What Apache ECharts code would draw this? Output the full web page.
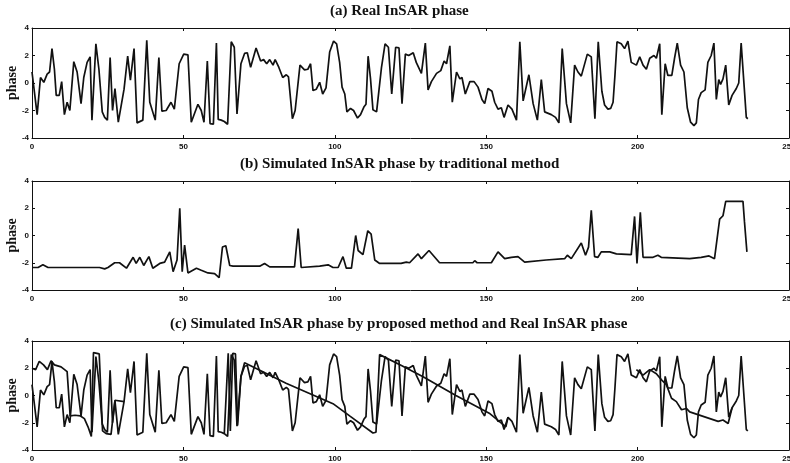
<!DOCTYPE html>
<html>
<head>
<meta charset="utf-8">
<script src="https://cdn.jsdelivr.net/npm/echarts@6/dist/echarts.min.js"></script>
<style>html,body{margin:0;padding:0;background:#fff}#c{width:790px;height:463px}</style>
</head>
<body>
<div id="c"></div>
<script>
// Real InSAR phase (index, phase)
const realX = [0,1.7,2.8,3.9,5.0,5.8,6.6,7.4,8.0,9.0,9.8,10.7,11.6,12.5,13.8,14.9,16.2,17.1,18.2,19.2,19.8,21.1,22.1,23.2,24.0,24.9,25.8,26.6,27.4,28.5,30.4,31.6,32.5,33.7,34.7,36.6,37.9,38.9,40.7,41.9,42.9,44.3,45.9,47.0,48.6,50.1,51.5,52.6,54.8,55.9,56.8,57.9,58.8,59.9,60.9,61.5,62.5,63.5,64.6,65.8,66.8,67.7,69.0,70.2,71.1,72.2,74.0,75.5,76.5,77.5,78.5,79.6,80.3,81.5,82.8,84.0,84.7,86.0,86.9,88.5,90.0,91.1,92.0,92.8,93.9,95.0,96.0,97.1,98.3,99.6,100.6,101.6,102.4,103.3,104.0,105.2,106.2,107.5,108.5,109.6,110.3,111.0,111.8,112.6,113.8,114.4,115.4,116.6,117.7,118.8,120.1,121.2,122.2,123.3,124.4,125.9,126.9,128.6,129.9,130.8,131.9,133.6,135.0,136.1,136.9,138.0,138.8,140.2,141.3,142.0,143.1,144.6,146.0,147.3,148.6,149.5,150.6,151.9,152.8,153.9,155.0,155.9,157.2,158.5,160.0,161.1,162.2,164.1,165.5,166.9,168.2,169.3,171.5,172.9,174.0,175.1,176.5,177.9,179.2,180.3,181.4,183.4,184.7,185.2,185.9,187.0,188.2,189.1,190.2,191.1,191.9,192.5,193.2,194.6,195.7,196.8,197.9,199.6,200.7,201.8,202.9,204.0,205.4,206.2,207.3,208.0,209.1,210.0,211.3,212.2,213.1,214.2,215.3,216.4,217.5,218.6,219.4,220.1,221.0,222.3,223.2,224.3,225.2,226.0,226.8,227.4,228.2,229.1,230.1,231.2,232.6,233.4,234.2,235.9,236.4];
const realY = [0.8,-2.3,0.4,0.05,0.65,0.8,2.5,1.0,-0.9,-0.9,0.1,-2.3,-1.4,-2.0,1.55,0.8,-1.5,0.4,1.5,1.9,-2.7,2.85,1.0,-2.1,-2.5,-2.7,1.85,-2.0,-0.4,-2.85,-0.45,1.95,0.2,2.5,-2.9,-2.7,3.1,-1.4,-2.7,1.85,-2.05,-2.0,-1.4,-1.9,1.4,2.1,2.05,-2.85,-1.55,-2.0,-2.85,1.6,-2.95,-3.0,2.9,-2.65,-2.7,-2.8,-3.0,3.0,2.6,-2.25,1.4,2.15,2.2,1.15,2.55,1.6,1.7,1.4,1.7,1.3,1.7,1.15,0.4,0.6,0.45,-2.6,-2.0,1.3,0.95,1.0,1.4,-0.55,-0.45,0.05,-0.8,-0.35,2.25,3.05,2.85,1.5,-0.3,-0.8,-2.1,-1.85,-2.0,-2.55,-2.3,-1.75,-1.55,1.95,0.3,-1.95,-2.1,-2.1,1.1,2.85,2.6,-0.8,2.6,2.55,-1.5,2.1,2.0,2.2,1.5,0.7,2.9,-0.5,0.1,0.7,0.9,1.6,1.4,2.7,-1.4,0.8,0.3,0.4,-0.8,0.1,0.1,-0.3,-1.2,-1.5,-0.4,-0.6,-1.4,-1.9,-1.8,-2.5,-1.6,-1.9,-2.7,3.0,-1.3,0.6,-1.5,-2.7,0.25,-2.1,-2.3,-2.5,-2.9,2.5,-1.5,-2.9,1.3,0.8,0.5,2.1,1.9,2.0,-2.6,3.0,-0.6,-1.6,-1.9,-1.85,-1.4,0.5,3.0,2.85,2.5,3.05,1.5,1.3,1.9,1.3,1.0,1.8,2.0,1.8,2.85,-2.3,1.4,0.55,0.55,1.8,2.9,1.3,0.8,-1.8,-2.85,-3.1,-2.9,-1.2,-0.7,-0.5,1.5,2.0,2.9,-1.2,0.25,-0.1,0.3,1.3,-1.6,-0.9,-0.4,0.0,2.9,-2.5,-2.6];

// Simulated InSAR phase by traditional method
const tradX = [0,2.0,3.6,5.3,22.3,24.0,25.1,27.3,28.9,31.2,33.4,34.4,35.6,36.9,38.6,39.9,42.2,43.8,45.5,46.6,47.9,48.8,49.6,50.4,51.5,54.3,55.9,58.1,60.3,61.8,62.9,64.0,65.3,66.4,75.2,76.8,78.5,86.7,87.9,88.9,95.0,97.8,99.4,101.1,102.7,103.8,105.5,106.9,107.7,109.3,110.9,112.0,113.2,114.8,121.9,123.6,124.7,127.5,128.6,131.1,134.6,145.6,146.2,147.0,151.7,153.9,156.1,158.3,160.5,162.7,169.8,175.9,176.8,178.1,181.4,182.8,183.8,184.7,185.8,186.9,188.0,190.8,193.0,197.9,199.0,199.8,200.9,201.8,205.1,206.7,207.8,217.2,221.0,223.6,225.4,227.1,228.2,229.1,234.8,235.3,236.1];
const tradY = [-2.35,-2.35,-2.15,-2.35,-2.35,-2.45,-2.35,-2.0,-2.0,-2.4,-1.6,-2.05,-1.6,-2.2,-1.55,-2.4,-2.05,-1.95,-1.2,-2.65,-1.8,2.0,-2.65,-0.7,-2.75,-2.4,-2.55,-2.75,-2.8,-3.1,-0.85,-0.75,-2.2,-2.25,-2.25,-2.05,-2.3,-2.3,0.5,-2.35,-2.25,-2.15,-2.35,-2.35,-1.55,-2.4,-2.4,0,-1.1,-1.4,0.35,0.1,-1.8,-2.05,-2.05,-1.95,-2.0,-1.35,-1.7,-1.1,-2.0,-2.0,-1.85,-2.0,-2.0,-1.2,-1.7,-1.6,-1.55,-1.95,-1.8,-1.7,-1.45,-1.7,-0.55,-1.45,-0.85,1.85,-1.55,-1.6,-1.2,-1.2,-1.35,-1.4,1.4,-2.05,1.7,-1.6,-1.6,-1.45,-1.6,-1.7,-1.6,-1.5,-1.7,1.2,1.45,2.5,2.5,1.0,-1.2];

// Simulated InSAR phase by proposed method (null = where it rejoins the real phase)
const propX = [0,1.2,2.4,3.8,5.1,6.3,7.4,9.6,11.6,12.6,14.2,16.0,17.3,18.5,19.6,20.3,22.2,23.3,24.5,26.1,27.4,30.4,30.5,63.5,64.8,65.5,66.3,67.2,67.9,69.0,70.2,83.9,99.4,104.9,112.6,113.6,114.8,122,129,140,151,156.5,157.2,157.3,199.6,201.8,204.0,206.2,207.9,209.5,211.2,212.8,214.5,216.1,217.2,226.6,228.2,229.9,231.2];
const propY = [2.0,1.9,2.5,2.25,1.9,2.55,2.25,2.1,1.75,-1.5,-1.45,-1.5,-1.7,-2.3,-3.0,3.15,3.05,-2.6,-2.8,-2.85,-0.35,-0.45,null,-2.8,3.1,-2.6,3.1,3.05,-2.2,1.4,2.4,0.9,-0.6,-1.5,-2.75,-2.7,3.0,2.2,1.4,0.0,-1.3,-2.3,-1.6,null,1.9,1.5,1.9,1.6,1.15,0.8,-0.2,-0.45,-1.05,-0.95,-1.2,-1.9,-1.8,-2.05,-0.9];

const titles = ['(a) Real InSAR phase', '(b) Simulated InSAR phase by traditional method', '(c) Simulated InSAR phase by proposed method and Real InSAR phase'];
const xTicks = [0, 50, 100, 150, 200, 250];
const yTicks = [-4, -2, 0, 2, 4];

const zip = (xs, ys) => xs.map((x, i) => [x, ys[i] === null ? NaN : ys[i]]);

const grids = [
  {left: 32, right: 1, top: 28, height: 110, outerBoundsMode: 'none', containLabel: false},
  {left: 32, right: 1, top: 181, height: 109, outerBoundsMode: 'none', containLabel: false},
  {left: 32, right: 1, top: 341, height: 109, outerBoundsMode: 'none', containLabel: false}
];
const titlePos = [{left: 330, top: 4}, {left: 240, top: 157}, {left: 170, top: 317}];

const lab = {fontFamily: 'Liberation Sans', fontWeight: 'bold', fontSize: 8, color: '#111'};
const line = {show: true, onZero: false, lineStyle: {color: '#111', width: 1}};
const tick = {show: true, inside: true, length: 3, lineStyle: {color: '#111', width: 1}};

const xAxis = [], yAxis = [];
grids.forEach((g, i) => {
  const xb = {type: 'value', gridIndex: i, min: xTicks[0], max: xTicks[xTicks.length - 1], interval: 50,
    splitLine: {show: false}, axisLine: line, axisTick: tick};
  xAxis.push(Object.assign({}, xb, {position: 'bottom', axisLabel: Object.assign({margin: 5, showMaxLabel: true}, lab)}));
  xAxis.push(Object.assign({}, xb, {position: 'top', axisLabel: {show: false}}));
  const yb = {type: 'value', gridIndex: i, min: yTicks[0], max: yTicks[yTicks.length - 1], interval: 2,
    splitLine: {show: false}, axisLine: line, axisTick: tick};
  yAxis.push(Object.assign({}, yb, {position: 'left', axisLabel: Object.assign({margin: 3}, lab),
    name: 'phase', nameLocation: 'middle', nameGap: 13, nameMoveOverlap: false,
    nameTextStyle: {fontFamily: 'Liberation Serif', fontWeight: 'bold', fontSize: 14, color: '#111'}}));
  yAxis.push(Object.assign({}, yb, {position: 'right', axisLabel: {show: false}}));
});

const ls = {color: '#111', width: 1.7};
const mk = (data, gi) => ({type: 'line', data, xAxisIndex: 2 * gi, yAxisIndex: 2 * gi,
  showSymbol: false, symbol: 'none', lineStyle: ls, itemStyle: {color: '#111'}, connectNulls: false, animation: false});

const option = {
  backgroundColor: '#fff',
  animation: false,
  title: titles.map((t, i) => ({text: t, left: titlePos[i].left, top: titlePos[i].top, padding: 0,
    textStyle: {fontFamily: 'Liberation Serif', fontWeight: 'bold', fontSize: 15, color: '#111'}})),
  grid: grids,
  xAxis, yAxis,
  series: [
    mk(zip(realX, realY), 0),
    mk(zip(tradX, tradY), 1),
    mk(zip(realX, realY), 2),
    mk(zip(propX, propY), 2)
  ]
};
const chart = echarts.init(document.getElementById('c'), null, {renderer: 'canvas'});
chart.setOption(option);
</script>
</body>
</html>
